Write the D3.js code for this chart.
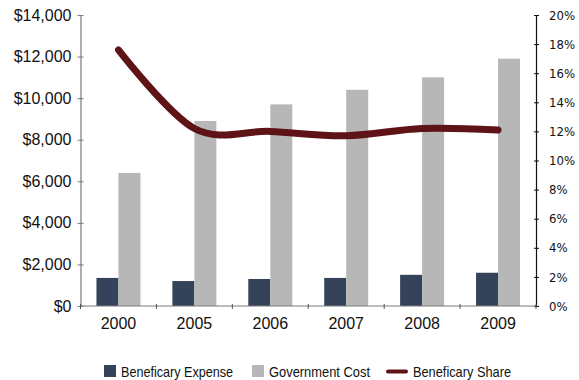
<!DOCTYPE html>
<html>
<head>
<meta charset="utf-8">
<script src="https://cdn.jsdelivr.net/npm/d3@7/dist/d3.min.js"></script>
<style>
  html, body { margin: 0; padding: 0; background: #fff; }
  svg { display: block; }
</style>
</head>
<body>
<svg id="chart" width="579" height="380"></svg>
<script>
// Categories and series
const years = ["2000", "2005", "2006", "2007", "2008", "2009"];
const beneficiaryExpense = [1350, 1200, 1300, 1350, 1500, 1600];
const governmentCost = [6400, 8900, 9700, 10400, 11000, 11900];
const beneficiaryShare = [17.6, 12.2, 12.0, 11.7, 12.2, 12.1];

const dollarTicks = [0, 2000, 4000, 6000, 8000, 10000, 12000, 14000];
const percentTicks = [0, 2, 4, 6, 8, 10, 12, 14, 16, 18, 20];

const seriesNames = ["Beneficary Expense", "Government Cost", "Beneficary Share"];
const colors = { expense: "#344359", cost: "#b6b7b6", share: "#5e1317" };

const svg = d3.select("#chart");
const plotLeft = 80.5, plotRight = 536, plotTop = 15, plotBottom = 306;

const x = d3.scaleBand().domain(years).range([plotLeft, plotRight]);
const y = d3.scaleLinear().domain([0, 14000]).range([plotBottom, plotTop]);
const yPct = d3.scaleLinear().domain([0, 20]).range([plotBottom, plotTop]);

const barW = 22;

// Bars
const g = svg.append("g");
g.selectAll("rect.exp").data(years).enter().append("rect")
  .attr("class", "exp")
  .attr("x", d => x(d) + x.bandwidth() / 2 - barW)
  .attr("width", barW)
  .attr("y", (d, i) => y(beneficiaryExpense[i]))
  .attr("height", (d, i) => y(0) - y(beneficiaryExpense[i]))
  .attr("fill", colors.expense);

g.selectAll("rect.cost").data(years).enter().append("rect")
  .attr("class", "cost")
  .attr("x", d => x(d) + x.bandwidth() / 2)
  .attr("width", barW)
  .attr("y", (d, i) => y(governmentCost[i]))
  .attr("height", (d, i) => y(0) - y(governmentCost[i]))
  .attr("fill", colors.cost);

// Left axis
const leftAxis = d3.axisLeft(y).tickValues(dollarTicks)
  .tickFormat(d => "$" + d3.format(",")(d))
  .tickSizeInner(3).tickSizeOuter(0).tickPadding(6);
const la = svg.append("g").attr("transform", `translate(${plotLeft},0)`).call(leftAxis);
la.select(".domain").attr("stroke", "#7a7a7a").attr("stroke-width", 1.2);
la.selectAll(".tick line").attr("stroke", "#7a7a7a").attr("x1", 3);
la.selectAll(".tick text")
  .attr("font-family", "'Liberation Sans', Arial, sans-serif")
  .attr("font-size", 16).attr("fill", "#111");

// Right axis
const rightAxis = d3.axisRight(yPct).tickValues(percentTicks)
  .tickFormat(d => d + "%")
  .tickSizeInner(3).tickSizeOuter(0).tickPadding(10);
const ra = svg.append("g").attr("transform", `translate(${plotRight},0)`).call(rightAxis);
ra.select(".domain").attr("stroke", "#111").attr("stroke-width", 1.2);
ra.selectAll(".tick line").attr("stroke", "#111").attr("x1", -2);
ra.selectAll(".tick text")
  .attr("font-family", "'DejaVu Sans Condensed', 'DejaVu Sans', sans-serif")
  .attr("font-stretch", "condensed")
  .attr("font-size", 13).attr("fill", "#111");

// Bottom axis
const xa = svg.append("g").attr("transform", `translate(0,${plotBottom})`);
xa.append("line").attr("x1", plotLeft).attr("x2", plotRight).attr("y1", 0).attr("y2", 0)
  .attr("stroke", "#7a7a7a").attr("stroke-width", 1.2);
const boundaries = years.map(d => x(d)).concat([plotRight]);
xa.selectAll("line.tk").data(boundaries).enter().append("line")
  .attr("class", "tk")
  .attr("x1", d => d).attr("x2", d => d).attr("y1", -2).attr("y2", 3)
  .attr("stroke", "#555");
xa.selectAll("text").data(years).enter().append("text")
  .attr("x", d => x(d) + x.bandwidth() / 2)
  .attr("y", 23)
  .attr("text-anchor", "middle")
  .attr("font-family", "'Liberation Sans', Arial, sans-serif")
  .attr("font-size", 16).attr("fill", "#111")
  .text(d => d);

// Share line
const line = d3.line()
  .x((d, i) => x(years[i]) + x.bandwidth() / 2)
  .y(d => yPct(d))
  .curve(d3.curveCatmullRom.alpha(0));
svg.append("path").datum(beneficiaryShare)
  .attr("d", line)
  .attr("fill", "none")
  .attr("stroke", colors.share)
  .attr("stroke-width", 7)
  .attr("stroke-linecap", "round")
  .attr("stroke-linejoin", "round");

// Legend (narrow type: Liberation Sans squeezed horizontally)
const lg = svg.append("g")
  .attr("font-family", "'Liberation Sans', Arial, sans-serif")
  .attr("font-size", 15).attr("fill", "#111");
const legendItems = [
  { name: seriesNames[0], type: "box", color: colors.expense, x: 104, w: 112 },
  { name: seriesNames[1], type: "box", color: colors.cost, x: 252, w: 101 },
  { name: seriesNames[2], type: "line", color: colors.share, x: 387, w: 98 }
];
legendItems.forEach(it => {
  let tx;
  if (it.type === "box") {
    lg.append("rect").attr("x", it.x).attr("y", 365).attr("width", 12).attr("height", 12)
      .attr("fill", it.color);
    tx = it.x + 17;
  } else {
    lg.append("line").attr("x1", it.x + 1).attr("x2", it.x + 19).attr("y1", 371.5).attr("y2", 371.5)
      .attr("stroke", it.color).attr("stroke-width", 4).attr("stroke-linecap", "round");
    tx = it.x + 26;
  }
  lg.append("text").attr("x", tx).attr("y", 377)
    .attr("textLength", it.w).attr("lengthAdjust", "spacingAndGlyphs")
    .text(it.name);
});
</script>
</body>
</html>
